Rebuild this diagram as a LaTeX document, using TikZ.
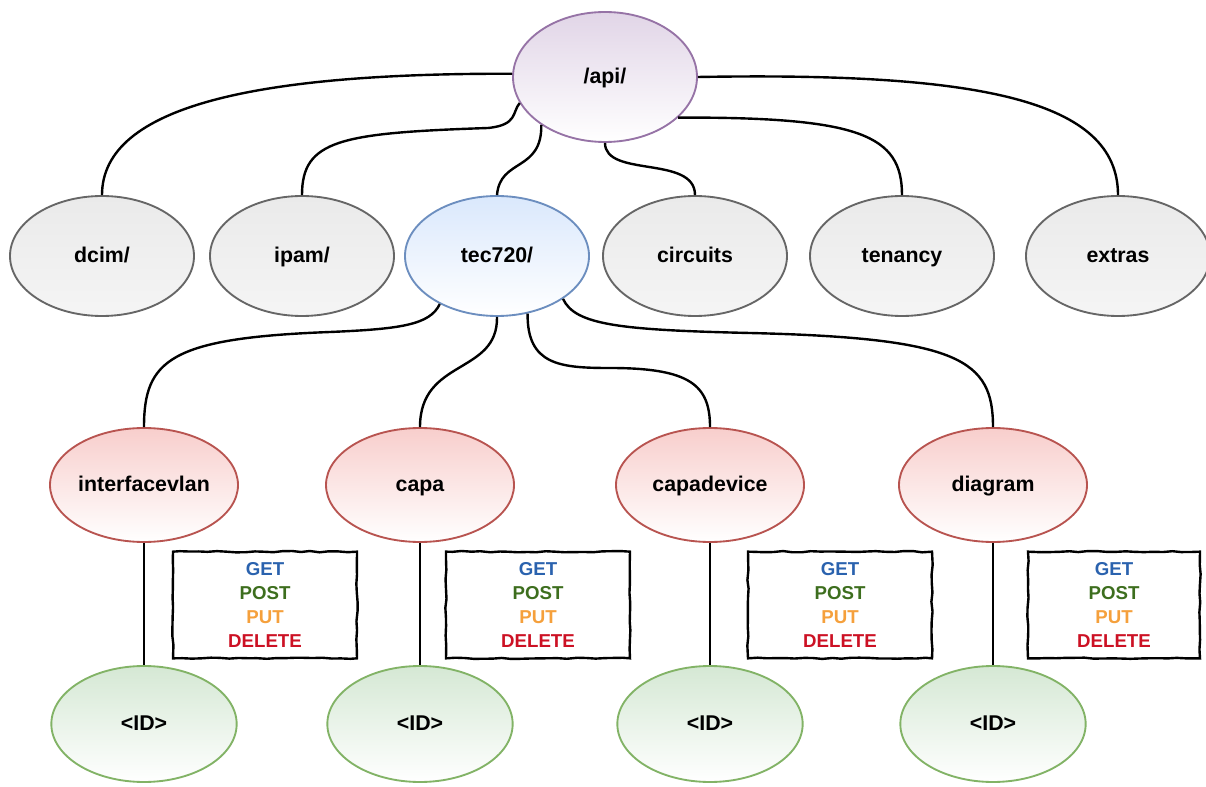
\documentclass[tikz,border=0pt]{standalone}
\usepackage{fontspec}
\setmainfont{Liberation Sans}
\usetikzlibrary{shapes.geometric,decorations.pathmorphing}
\definecolor{purpfill}{HTML}{E1D5E7}
\definecolor{purpline}{HTML}{9673A6}
\definecolor{bluefill}{HTML}{DAE8FC}
\definecolor{blueline}{HTML}{6C8EBF}
\definecolor{redfill}{HTML}{F8CECC}
\definecolor{redline}{HTML}{B85450}
\definecolor{greenfill}{HTML}{D5E8D4}
\definecolor{greenline}{HTML}{82B366}
\definecolor{grayfill}{HTML}{EAEAEA}
\definecolor{grayline}{HTML}{666666}
\definecolor{getc}{HTML}{2A62AE}
\definecolor{postc}{HTML}{3D6E1E}
\definecolor{putc}{HTML}{F5A03C}
\definecolor{delc}{HTML}{CC1124}
\newcommand{\methodlist}{\textcolor{getc}{GET}\\\textcolor{postc}{POST}\\\textcolor{putc}{PUT}\\\textcolor{delc}{DELETE}}
\begin{document}
\begin{tikzpicture}[x=0.75pt,y=-0.75pt,
  ell/.style={ellipse, inner sep=0pt, line width=1.4pt, text height=11.5pt, text depth=2pt,
    font=\bfseries\fontsize{16}{18}\selectfont, shading=axis, bottom color=white},
  apinode/.style={ell, draw=purpline, top color=purpfill, minimum width=138pt, minimum height=97.5pt},
  grpnode/.style={ell, draw=grayline, top color=grayfill, bottom color=white!96!black, minimum width=138pt, minimum height=90pt},
  tecnode/.style={ell, draw=blueline, top color=bluefill, minimum width=138pt, minimum height=90pt},
  resnode/.style={ell, draw=redline, top color=redfill, minimum width=141pt, minimum height=85.5pt},
  idnode/.style={ell, draw=greenline, top color=greenfill, minimum width=139pt, minimum height=87pt},
  conn/.style={line width=1.8pt, black},
  methods/.style={draw, line width=1.8pt, minimum width=138pt, minimum height=80pt,
    inner sep=0pt, align=center, font=\bfseries\fontsize{14}{18}\selectfont,
    decorate, decoration={random steps, segment length=7pt, amplitude=0.5pt}}
]
\pgfmathsetseed{7}
\useasboundingbox (0,0) rectangle (1206,787);

% nodes
\node[apinode] (api) at (605,77) {/api/};
\node[grpnode] (dcim) at (102,256) {dcim/};
\node[grpnode] (ipam) at (302,256) {ipam/};
\node[tecnode] (tec) at (497,256) {tec720/};
\node[grpnode] (circ) at (695,256) {circuits};
\node[grpnode] (ten) at (902,256) {tenancy};
\node[grpnode] (ext) at (1118,256) {extras};

\node[resnode] (ivl) at (144,485) {interfacevlan};
\node[resnode] (capa) at (420,485) {capa};
\node[resnode] (capd) at (710,485) {capadevice};
\node[resnode] (diag) at (993,485) {diagram};

\node[idnode] (id1) at (144,724) {<ID>};
\node[idnode] (id2) at (420,724) {<ID>};
\node[idnode] (id3) at (710,724) {<ID>};
\node[idnode] (id4) at (993,724) {<ID>};

\node[methods] (m1) at (265,605) {\methodlist};
\node[methods] (m2) at (538,605) {\methodlist};
\node[methods] (m3) at (840,605) {\methodlist};
\node[methods, minimum width=129pt] (m4) at (1114,605) {\methodlist};

% connectors api -> level 2
\draw[conn] (api.178) .. controls (260,73) and (102,105) .. (dcim.north);
\draw[conn] (api.197) .. controls (512,112) and (518,125) .. (488,128)
            .. controls (340,133) and (302,140) .. (ipam.north);
\draw[conn] (api.217) .. controls (542,172) and (500,158) .. (tec.north);
\draw[conn] (api.south) .. controls (605,178) and (695,155) .. (circ.north);
\draw[conn] (api.331) .. controls (860,117) and (902,135) .. (ten.north);
\draw[conn] (api.east) .. controls (980,72) and (1118,100) .. (ext.north);

% connectors tec720 -> level 3
\draw[conn] (tec.220) .. controls (430,325) and (400,329) .. (330,332)
            .. controls (170,338) and (144,360) .. (ivl.north);
\draw[conn] (tec.south) .. controls (498,375) and (420,358) .. (capa.north);
\draw[conn] (tec.298) .. controls (527,365) and (560,368) .. (610,368)
            .. controls (690,368) and (710,385) .. (capd.north);
\draw[conn] (tec.327) .. controls (575,325) and (620,330) .. (750,333)
            .. controls (960,338) and (993,360) .. (diag.north);

% connectors level 3 -> ID
\draw[conn] (ivl.south) -- (id1.north);
\draw[conn] (capa.south) -- (id2.north);
\draw[conn] (capd.south) -- (id3.north);
\draw[conn] (diag.south) -- (id4.north);
\end{tikzpicture}
\end{document}
